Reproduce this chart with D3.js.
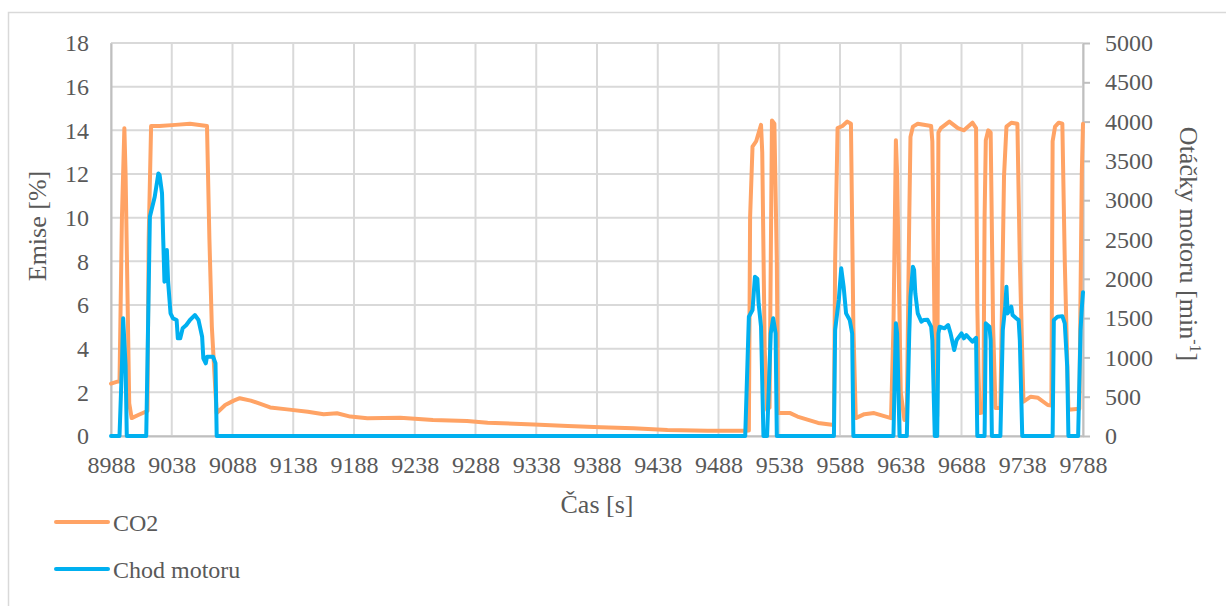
<!DOCTYPE html>
<html>
<head>
<meta charset="utf-8">
<script src="https://cdn.jsdelivr.net/npm/d3@7"></script>
<style>
  html, body { margin: 0; padding: 0; background: #fff; }
  svg { display: block; }
</style>
</head>
<body>
<svg id="chart" width="1226" height="606"></svg>
<script>
// CO2 emission trace [%] (left axis)
const co2Time = [8988, 8994, 8995, 8997, 8999, 9000, 9003, 9005, 9010, 9016, 9018, 9019, 9021, 9028, 9041, 9053, 9067, 9069, 9071, 9074, 9075, 9082, 9089, 9094, 9103, 9111, 9119, 9133, 9150, 9163, 9174, 9185, 9199, 9226, 9253, 9281, 9298, 9336, 9364, 9391, 9418, 9446, 9479, 9510, 9513, 9514, 9516, 9519, 9523, 9524, 9526, 9528, 9530, 9532, 9534, 9536, 9537, 9547, 9553, 9570, 9583, 9584, 9586, 9590, 9594, 9597, 9599, 9601, 9608, 9616, 9630, 9632, 9634, 9635, 9638, 9641, 9643, 9645, 9646, 9648, 9652, 9663, 9664, 9666, 9668, 9669, 9671, 9678, 9685, 9690, 9697, 9700, 9701, 9702, 9703, 9706, 9707, 9708, 9710, 9712, 9714, 9716, 9720, 9723, 9725, 9729, 9734, 9736, 9739, 9745, 9751, 9759, 9762, 9763, 9765, 9768, 9771, 9773, 9776, 9785, 9787, 9788];
const co2Values = [2.40, 2.50, 2.50, 10.0, 14.1, 12.0, 1.5, 0.82, 0.95, 1.10, 1.15, 9.0, 14.2, 14.2, 14.25, 14.3, 14.2, 9.0, 5.0, 2.0, 1.05, 1.42, 1.62, 1.73, 1.62, 1.47, 1.31, 1.22, 1.11, 1.00, 1.04, 0.89, 0.81, 0.84, 0.73, 0.69, 0.61, 0.53, 0.46, 0.40, 0.35, 0.27, 0.24, 0.24, 0.25, 10.0, 13.25, 13.5, 14.25, 13.0, 4.0, 1.2, 1.3, 14.45, 14.3, 8.0, 1.05, 1.05, 0.89, 0.60, 0.50, 8.0, 14.1, 14.2, 14.4, 14.3, 5.0, 0.82, 1.0, 1.05, 0.82, 5.0, 13.55, 12.0, 2.0, 0.73, 1.0, 10.0, 13.7, 14.17, 14.3, 14.2, 13.5, 4.0, 0.9, 13.9, 14.1, 14.4, 14.1, 14.0, 14.35, 14.1, 6.0, 2.9, 1.05, 1.1, 10.0, 13.55, 14.0, 13.9, 5.0, 1.28, 1.28, 11.9, 14.17, 14.35, 14.3, 8.0, 1.57, 1.80, 1.75, 1.42, 1.40, 13.5, 14.17, 14.35, 14.3, 8.0, 1.2, 1.25, 12.0, 14.3];

// Engine speed [min-1] (right axis)
const rpmTime = [8988, 8995, 8997, 8998, 9000, 9001, 9017, 9020, 9024, 9027, 9028, 9030, 9031, 9032, 9034, 9035, 9037, 9039, 9042, 9043, 9045, 9047, 9050, 9053, 9057, 9060, 9063, 9064, 9066, 9067, 9072, 9074, 9075, 9510, 9513, 9516, 9518, 9520, 9521, 9523, 9525, 9528, 9531, 9533, 9535, 9536, 9583, 9584, 9587, 9589, 9591, 9593, 9596, 9598, 9599, 9632, 9634, 9635, 9637, 9643, 9645, 9646, 9648, 9649, 9650, 9652, 9655, 9657, 9660, 9663, 9664, 9666, 9668, 9669, 9670, 9674, 9677, 9679, 9682, 9684, 9686, 9688, 9690, 9692, 9694, 9697, 9700, 9701, 9707, 9708, 9711, 9712, 9713, 9720, 9722, 9724, 9725, 9726, 9729, 9730, 9733, 9735, 9736, 9738, 9763, 9764, 9767, 9771, 9773, 9775, 9776, 9784, 9786, 9787, 9788];
const rpmValues = [0, 0, 900, 1497, 900, 0, 0, 2790, 3044, 3341, 3320, 3087, 2493, 1963, 2366, 1963, 1560, 1497, 1476, 1243, 1243, 1370, 1412, 1476, 1539, 1476, 1263, 988, 925, 1009, 1009, 925, 0, 0, 1518, 1603, 2026, 2000, 1688, 1391, 0, 0, 1306, 1497, 1306, 0, 0, 1348, 1730, 2133, 1899, 1560, 1476, 1306, 0, 0, 1433, 1306, 0, 0, 1306, 1772, 2154, 2112, 1815, 1560, 1454, 1476, 1480, 1391, 1221, 0, 0, 1306, 1391, 1370, 1412, 1306, 1094, 1221, 1263, 1306, 1243, 1285, 1250, 1200, 1250, 0, 0, 1433, 1391, 1221, 0, 0, 1348, 1645, 1899, 1560, 1645, 1539, 1497, 1476, 1221, 0, 0, 1476, 1518, 1525, 1433, 882, 0, 0, 1348, 1624, 1830];

const xTicks = d3.range(8988, 9789, 50);
const leftTicks = d3.range(0, 19, 2);
const rightTicks = d3.range(0, 5001, 500);

const seriesNames = ["CO2", "Chod motoru"];
const colors = { co2: "#FFA365", rpm: "#00B0F0" };

const FONT = "'Liberation Serif', 'DejaVu Serif', serif";
const TEXT = "#595959";

const svg = d3.select("#chart").attr("font-family", FONT);
const plot = { left: 111, right: 1083, top: 43, bottom: 436 };

// chart frame
svg.append("rect")
  .attr("x", 8.5).attr("y", 12.5)
  .attr("width", 1240).attr("height", 620)
  .attr("fill", "none").attr("stroke", "#D9D9D9").attr("stroke-width", 1.5);

const x = d3.scaleLinear().domain([8988, 9788]).range([plot.left, plot.right]);
const yL = d3.scaleLinear().domain([0, 18]).range([plot.bottom, plot.top]);
const yR = d3.scaleLinear().domain([0, 5000]).range([plot.bottom, plot.top]);

// gridlines
const grid = svg.append("g");
grid.selectAll("line.h").data(leftTicks).join("line")
  .attr("x1", plot.left).attr("x2", plot.right)
  .attr("y1", d => yL(d)).attr("y2", d => yL(d))
  .attr("stroke", "#D9D9D9").attr("stroke-width", 2);
grid.selectAll("line.v").data(xTicks).join("line")
  .attr("x1", d => x(d)).attr("x2", d => x(d))
  .attr("y1", plot.top).attr("y2", plot.bottom)
  .attr("stroke", "#D9D9D9").attr("stroke-width", 2);

function styleAxis(g) {
  g.attr("font-family", FONT).attr("font-size", 24);
  g.select(".domain").attr("stroke", "#BFBFBF").attr("stroke-width", 2);
  g.selectAll(".tick line").attr("stroke", "#BFBFBF").attr("stroke-width", 2);
  g.selectAll("text").attr("fill", TEXT).style("font-family", FONT);
}

// left axis
svg.append("g").attr("transform", `translate(${plot.left},0)`)
  .call(d3.axisLeft(yL).tickValues(leftTicks).tickSize(0).tickPadding(22))
  .call(styleAxis);

// right axis
svg.append("g").attr("transform", `translate(${plot.right},0)`)
  .call(d3.axisRight(yR).tickValues(rightTicks).tickFormat(d3.format("d"))
    .tickSize(7).tickPadding(15).tickSizeOuter(0))
  .call(styleAxis);

// bottom axis
svg.append("g").attr("transform", `translate(0,${plot.bottom})`)
  .call(d3.axisBottom(x).tickValues(xTicks).tickFormat(d3.format("d")).tickSize(0).tickPadding(20))
  .call(styleAxis);

// series
const co2Line = d3.line().x(d => x(d[0])).y(d => yL(d[1]));
const rpmLine = d3.line().x(d => x(d[0])).y(d => yR(d[1]));

svg.append("path")
  .datum(d3.zip(co2Time, co2Values))
  .attr("d", co2Line)
  .attr("fill", "none").attr("stroke", colors.co2).attr("stroke-width", 4)
  .attr("stroke-linejoin", "round").attr("stroke-linecap", "round");

svg.append("path")
  .datum(d3.zip(rpmTime, rpmValues))
  .attr("d", rpmLine)
  .attr("fill", "none").attr("stroke", colors.rpm).attr("stroke-width", 4)
  .attr("stroke-linejoin", "round").attr("stroke-linecap", "round");

// axis titles
svg.append("text")
  .attr("transform", "translate(46,226) rotate(-90)")
  .attr("text-anchor", "middle").attr("font-size", 26)
  .attr("font-family", FONT).attr("fill", TEXT)
  .text("Emise [%]");

const rt = svg.append("text")
  .attr("transform", "translate(1180,244) rotate(90)")
  .attr("text-anchor", "middle").attr("font-size", 26)
  .attr("font-family", FONT).attr("fill", TEXT);
rt.append("tspan").text("Otáčky motoru [min");
rt.append("tspan").attr("font-size", 16).attr("dy", -10).text("-1");
rt.append("tspan").attr("dy", 10).text("]");

svg.append("text")
  .attr("x", (plot.left + plot.right) / 2).attr("y", 513)
  .attr("text-anchor", "middle").attr("font-size", 26)
  .attr("font-family", FONT).attr("fill", TEXT)
  .text("Čas [s]");

// legend
const legend = svg.append("g");
const legendRows = [
  { name: seriesNames[0], color: colors.co2, y: 522 },
  { name: seriesNames[1], color: colors.rpm, y: 569 }
];
legendRows.forEach(r => {
  legend.append("line")
    .attr("x1", 56).attr("x2", 108).attr("y1", r.y).attr("y2", r.y)
    .attr("stroke", r.color).attr("stroke-width", 4).attr("stroke-linecap", "round");
  legend.append("text")
    .attr("x", 113).attr("y", r.y + 9)
    .attr("font-size", 24)
    .attr("font-family", FONT).attr("fill", TEXT)
    .text(r.name);
});
</script>
</body>
</html>
